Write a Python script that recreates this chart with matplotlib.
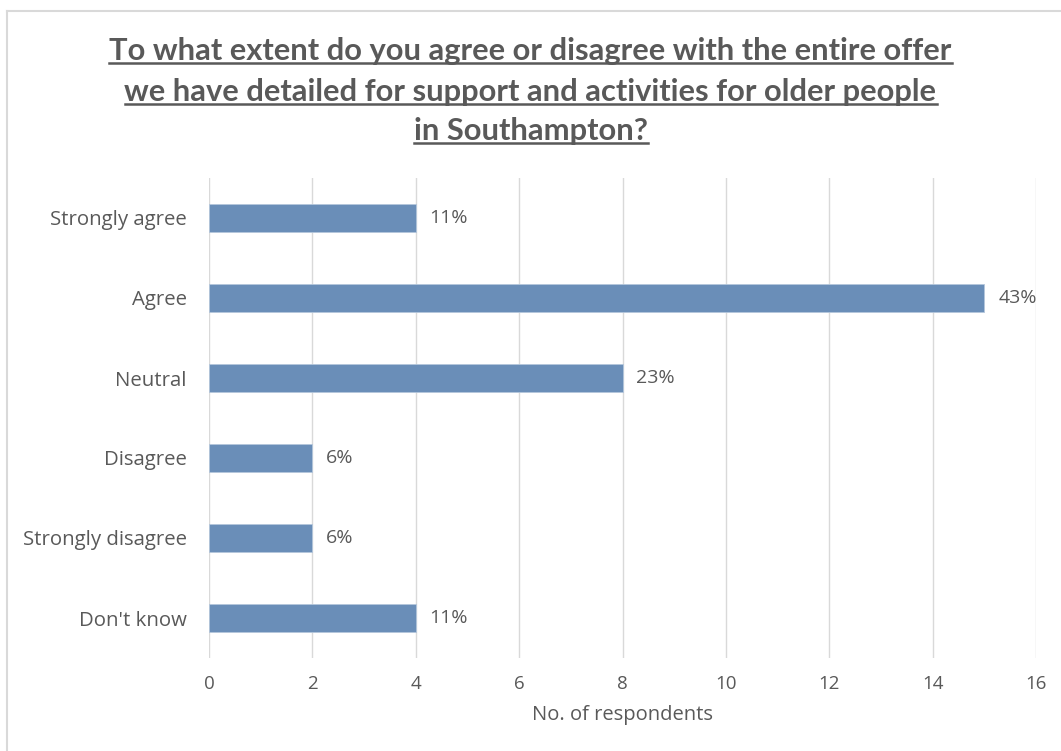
import matplotlib
matplotlib.use("Agg")
import matplotlib.pyplot as plt
from matplotlib.lines import Line2D

categories = ["Strongly agree", "Agree", "Neutral", "Disagree", "Strongly disagree", "Don't know"]
respondents = [4, 15, 8, 2, 2, 4]
pct_labels = ["11%", "43%", "23%", "6%", "6%", "11%"]
x_ticks = [0, 2, 4, 6, 8, 10, 12, 14, 16]

title_lines = ["To what extent do you agree or disagree with the entire offer",
               "we have detailed for support and activities for older people",
               "in Southampton?"]

plt.rcParams["font.family"] = ["Open Sans", "DejaVu Sans"]
txt_col = "#595959"
bar_col = "#6A8EB8"
grid_col = "#D9D9D9"

fig = plt.figure(figsize=(10.61, 7.51), dpi=100)
fig.patch.set_facecolor("white")

# chart frame (only left and top edges fall inside the image)
fig.add_artist(Line2D([6.5 / 1061, 6.5 / 1061], [0, 1 - 10.5 / 751], color=grid_col, lw=1.5, transform=fig.transFigure))
fig.add_artist(Line2D([6.5 / 1061, 1], [1 - 10.5 / 751, 1 - 10.5 / 751], color=grid_col, lw=1.5, transform=fig.transFigure))

ax = fig.add_axes([209 / 1061, 1 - 658 / 751, (1036 - 209) / 1061, (658 - 178) / 751])
y_pos = list(range(len(categories)))
bars = ax.barh(y_pos, respondents, height=0.35, color=bar_col, edgecolor="#B4C7DC", linewidth=0.6, zorder=3)

for b, lab in zip(bars, pct_labels):
    ax.annotate(lab, (b.get_width(), b.get_y() + b.get_height() / 2), xytext=(10, 0),
                textcoords="offset points", va="center", ha="left", fontsize=14, color=txt_col)

ax.set_xlim(0, 16)
ax.set_ylim(len(categories) - 0.5, -0.5)
ax.set_xticks(x_ticks)
ax.set_yticks(y_pos)
ax.set_yticklabels(categories)
ax.tick_params(axis="y", length=0, pad=16, labelsize=14.7, labelcolor=txt_col)
ax.tick_params(axis="x", length=0, pad=12, labelsize=13.5, labelcolor=txt_col)
ax.grid(axis="x", color=grid_col, lw=1, zorder=0)
for s in ax.spines.values():
    s.set_visible(False)
ax.set_xlabel("No. of respondents", fontsize=14.5, color=txt_col, labelpad=9)

# underlined title lines
baselines = [60, 101, 140]
fig.canvas.draw()
renderer = fig.canvas.get_renderer()
for line, yb in zip(title_lines, baselines):
    t = fig.text(0.5, 1 - yb / 751, line, ha="center", va="baseline", fontsize=22.2,
                 fontweight="bold", color=txt_col, family=["Lato", "DejaVu Sans"])
    bb = t.get_window_extent(renderer=renderer)
    x0, x1 = bb.x0 / fig.bbox.width, bb.x1 / fig.bbox.width
    yu = 1 - (yb + 3) / 751
    fig.add_artist(Line2D([x0, x1], [yu, yu], color=txt_col, lw=1.8, transform=fig.transFigure))

fig.savefig("out.png", dpi=100)
